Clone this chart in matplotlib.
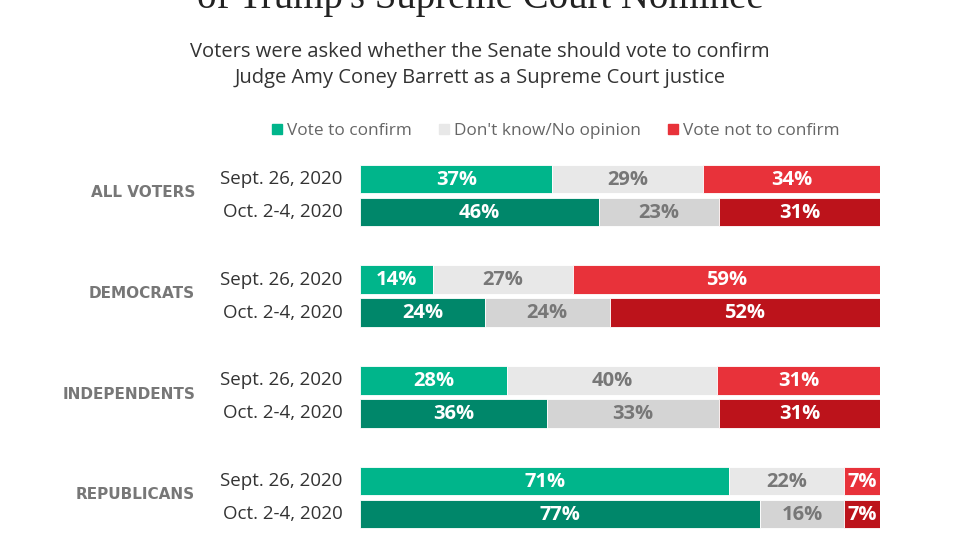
import numpy as np
import matplotlib
matplotlib.use('Agg')
import matplotlib.pyplot as plt
from matplotlib.patches import Patch

groups = ['ALL VOTERS', 'DEMOCRATS', 'INDEPENDENTS', 'REPUBLICANS']
waves = ['Sept. 26, 2020', 'Oct. 2-4, 2020']
confirm = [[37, 46], [14, 24], [28, 36], [71, 77]]
no_opinion = [[29, 23], [27, 24], [40, 33], [22, 16]]
not_confirm = [[34, 31], [59, 52], [31, 31], [7, 7]]
legend_labels = ['Vote to confirm', "Don't know/No opinion", 'Vote not to confirm']

colors = {
    'confirm': ['#00b58b', '#00876a'],
    'no_opinion': ['#e8e8e8', '#d4d4d4'],
    'not_confirm': ['#e8323a', '#bc131b'],
}
text_colors = {'confirm': 'white', 'no_opinion': '#777777', 'not_confirm': 'white'}

plt.rcParams['font.family'] = ['Open Sans', 'DejaVu Sans']

fig = plt.figure(figsize=(9.6, 5.4), dpi=100)
ax = fig.add_axes([360 / 960, 9.5 / 540, 520 / 960, 368 / 540])

group_gap = 3.05
bar_h = 0.87
for g, name in enumerate(groups):
    for r, wave in enumerate(waves):
        y = g * group_gap + r
        vals = [confirm[g][r], no_opinion[g][r], not_confirm[g][r]]
        total = sum(vals)
        left = 0
        for key, v in zip(['confirm', 'no_opinion', 'not_confirm'], vals):
            w = v / total * 100
            ax.barh(y, w, left=left, height=bar_h, color=colors[key][r],
                    edgecolor='white', linewidth=0.6)
            ax.text(left + w / 2, y + 0.02, f'{v}%', ha='center', va='center',
                    fontsize=14.5, fontweight='bold', color=text_colors[key])
            left += w
        ax.text(-3.3, y, wave, ha='right', va='center', fontsize=13.5,
                color='#333333', clip_on=False)
    ax.text(-31.7, g * group_gap + 0.42, name, ha='right', va='center',
            fontsize=11, fontweight='bold', color='#777777',
            family='DejaVu Sans', clip_on=False)

ax.set_xlim(0, 100)
ax.set_ylim(3 * group_gap + 1.5, -0.5)
ax.axis('off')

fig.text(0.5, 532 / 540, "of Trump's Supreme Court Nominee", ha='center',
         va='baseline', fontsize=28, family='Liberation Serif', color='#222222')
fig.text(0.5, 1 - 52 / 540, 'Voters were asked whether the Senate should vote to confirm',
         ha='center', va='center', fontsize=14.5, color='#333333')
fig.text(0.5, 1 - 78 / 540, 'Judge Amy Coney Barrett as a Supreme Court justice',
         ha='center', va='center', fontsize=14.5, color='#333333')

handles = [Patch(color=colors[k][0]) for k in ['confirm', 'no_opinion', 'not_confirm']]
leg = fig.legend(handles, legend_labels, loc='center', bbox_to_anchor=(556 / 960, 1 - 131 / 540),
                 ncol=3, frameon=False, fontsize=12.4, handlelength=0.55, handleheight=0.55,
                 handletextpad=0.3, columnspacing=1.6)
for t in leg.get_texts():
    t.set_color('#666666')

fig.savefig('out.png', dpi=100)
